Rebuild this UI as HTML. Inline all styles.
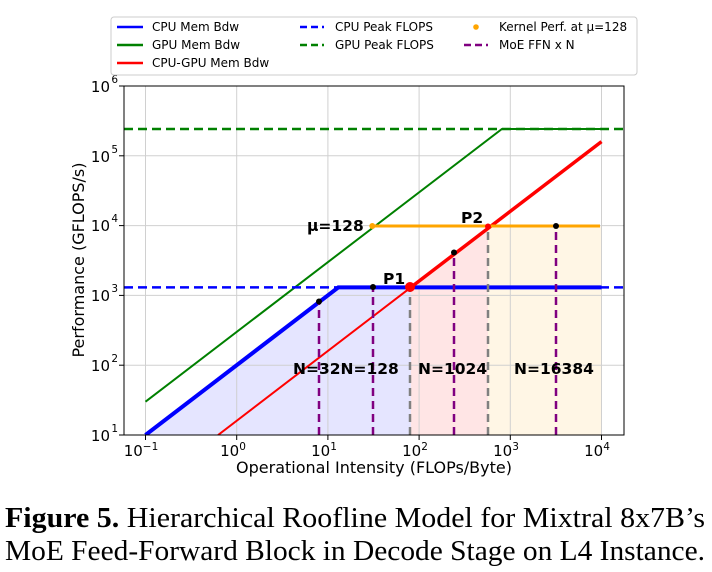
<!DOCTYPE html>
<html><head><meta charset="utf-8"><style>
body{margin:0;background:#fff;width:712px;height:572px;overflow:hidden}
svg{display:block}
text{font-family:"DejaVu Sans","Liberation Sans",sans-serif}
.cap{font-family:"Liberation Serif",serif;font-size:28px;fill:#000}
</style></head><body>
<svg width="712" height="572" xmlns="http://www.w3.org/2000/svg">
<defs><clipPath id="c"><rect x="124" y="86" width="500" height="349"/></clipPath></defs>
<g clip-path="url(#c)">
<polygon points="145.5,435 338.3,287.4 410.8,287.4 410.8,435" fill="#0000ff" fill-opacity="0.1"/>
<polygon points="410.8,435 410.8,287.4 488,227.5 488,435" fill="#ff0000" fill-opacity="0.1"/>
<polygon points="488,435 488,226 601,226 601,435" fill="#ffa500" fill-opacity="0.1"/>
<g stroke="#d0d0d0" stroke-width="1">
<line x1="145.5" y1="86" x2="145.5" y2="435"/><line x1="236.7" y1="86" x2="236.7" y2="435"/>
<line x1="327.9" y1="86" x2="327.9" y2="435"/><line x1="419.1" y1="86" x2="419.1" y2="435"/>
<line x1="510.3" y1="86" x2="510.3" y2="435"/><line x1="601.5" y1="86" x2="601.5" y2="435"/>
<line x1="124" y1="365.2" x2="624" y2="365.2"/><line x1="124" y1="295.4" x2="624" y2="295.4"/>
<line x1="124" y1="225.6" x2="624" y2="225.6"/><line x1="124" y1="155.8" x2="624" y2="155.8"/>
</g>
<polyline points="145.5,401.7 501.9,129 601.5,129" fill="none" stroke="#008000" stroke-width="2"/>
<line x1="124" y1="129" x2="624" y2="129" stroke="#008000" stroke-width="2.5" stroke-dasharray="9,5"/>
<line x1="124" y1="287.4" x2="624" y2="287.4" stroke="#0000ff" stroke-width="2.5" stroke-dasharray="9,5"/>
<polyline points="145.5,435 338.3,287.4 601.5,287.4" fill="none" stroke="#0000ff" stroke-width="4"/>
<line x1="218.1" y1="435" x2="410.8" y2="287.4" stroke="#ff0000" stroke-width="2"/>
<line x1="410.8" y1="287.4" x2="601.5" y2="141.6" stroke="#ff0000" stroke-width="3.5"/>
<line x1="372.3" y1="226" x2="600" y2="226" stroke="#ffa500" stroke-width="3"/>
<g stroke="#800080" stroke-width="2.5" stroke-dasharray="8,5">
<line x1="319" y1="435" x2="319" y2="302"/><line x1="373" y1="435" x2="373" y2="287"/>
<line x1="454" y1="435" x2="454" y2="252.7"/><line x1="556" y1="435" x2="556" y2="226"/>
</g>
<g stroke="#808080" stroke-width="2.5" stroke-dasharray="8,5">
<line x1="410" y1="435" x2="410" y2="287"/><line x1="488" y1="435" x2="488" y2="227"/>
</g>
<circle cx="372.3" cy="226" r="3" fill="#ffa500"/>
<g fill="#000"><circle cx="319" cy="301.5" r="3"/><circle cx="373" cy="287" r="3"/><circle cx="454" cy="252.5" r="3"/><circle cx="556" cy="226" r="3"/></g>
<circle cx="410" cy="287" r="5" fill="#ff0000"/>
<circle cx="488" cy="226.5" r="3" fill="#ff0000"/>
</g>
<g font-weight="bold" font-size="15.5" fill="#000">
<text x="293" y="374">N=32N=128</text>
<text x="418" y="374">N=1024</text>
<text x="514" y="374">N=16384</text>
<text x="307" y="231">μ=128</text>
<text x="461" y="223">P2</text>
<text x="383" y="284">P1</text>
</g>
<rect x="124" y="86" width="500" height="349" fill="none" stroke="#000" stroke-width="1"/>
<g stroke="#000" stroke-width="1">
<line x1="145.5" y1="435" x2="145.5" y2="440"/><line x1="236.7" y1="435" x2="236.7" y2="440"/>
<line x1="327.9" y1="435" x2="327.9" y2="440"/><line x1="419.1" y1="435" x2="419.1" y2="440"/>
<line x1="510.3" y1="435" x2="510.3" y2="440"/><line x1="601.5" y1="435" x2="601.5" y2="440"/>
<line x1="119" y1="435" x2="124" y2="435"/><line x1="119" y1="365.2" x2="124" y2="365.2"/>
<line x1="119" y1="295.4" x2="124" y2="295.4"/><line x1="119" y1="225.6" x2="124" y2="225.6"/>
<line x1="119" y1="155.8" x2="124" y2="155.8"/><line x1="119" y1="86" x2="124" y2="86"/>
</g>
<g font-size="15" fill="#000" text-anchor="middle">
<text x="141" y="456">10<tspan font-size="10.5" dy="-6">−1</tspan></text>
<text x="233" y="456">10<tspan font-size="10.5" dy="-6">0</tspan></text>
<text x="324" y="456">10<tspan font-size="10.5" dy="-6">1</tspan></text>
<text x="415" y="456">10<tspan font-size="10.5" dy="-6">2</tspan></text>
<text x="506" y="456">10<tspan font-size="10.5" dy="-6">3</tspan></text>
<text x="597" y="456">10<tspan font-size="10.5" dy="-6">4</tspan></text>
</g>
<g font-size="15" fill="#000" text-anchor="end">
<text x="110" y="441">10</text><text x="118" y="432" font-size="10.5">1</text>
<text x="110" y="371">10</text><text x="118" y="362" font-size="10.5">2</text>
<text x="110" y="301">10</text><text x="118" y="292" font-size="10.5">3</text>
<text x="110" y="231">10</text><text x="118" y="222" font-size="10.5">4</text>
<text x="110" y="162">10</text><text x="118" y="153" font-size="10.5">5</text>
<text x="110" y="92">10</text><text x="118" y="83" font-size="10.5">6</text>
</g>
<text x="374" y="473" font-size="16" text-anchor="middle" fill="#000">Operational Intensity (FLOPs/Byte)</text>
<text transform="translate(84,260) rotate(-90)" font-size="16" text-anchor="middle" fill="#000">Performance (GFLOPS/s)</text>
<rect x="111" y="17" width="526" height="58" rx="3" fill="#fff" stroke="#ccc"/>
<g font-size="12" fill="#000">
<line x1="117" y1="27" x2="143" y2="27" stroke="#0000ff" stroke-width="2.5"/><text x="152" y="31">CPU Mem Bdw</text>
<line x1="117" y1="45" x2="143" y2="45" stroke="#008000" stroke-width="2.5"/><text x="152" y="49">GPU Mem Bdw</text>
<line x1="117" y1="63" x2="143" y2="63" stroke="#ff0000" stroke-width="2.5"/><text x="152" y="67">CPU-GPU Mem Bdw</text>
<line x1="300" y1="27" x2="324" y2="27" stroke="#0000ff" stroke-width="2.5" stroke-dasharray="7,4"/><text x="335" y="31">CPU Peak FLOPS</text>
<line x1="300" y1="45" x2="324" y2="45" stroke="#008000" stroke-width="2.5" stroke-dasharray="7,4"/><text x="335" y="49">GPU Peak FLOPS</text>
<circle cx="476" cy="27" r="2.8" fill="#ffa500"/><text x="499" y="31">Kernel Perf. at μ=128</text>
<line x1="464" y1="45" x2="488" y2="45" stroke="#800080" stroke-width="2.5" stroke-dasharray="7,4"/><text x="499" y="49">MoE FFN x N</text>
</g>
<text class="cap" x="5" y="527" textLength="700" lengthAdjust="spacingAndGlyphs"><tspan font-weight="bold">Figure 5.</tspan> Hierarchical Roofline Model for Mixtral 8x7B’s</text>
<text class="cap" x="5" y="560" textLength="700" lengthAdjust="spacingAndGlyphs">MoE Feed-Forward Block in Decode Stage on L4 Instance.</text>
</svg>
</body></html>
